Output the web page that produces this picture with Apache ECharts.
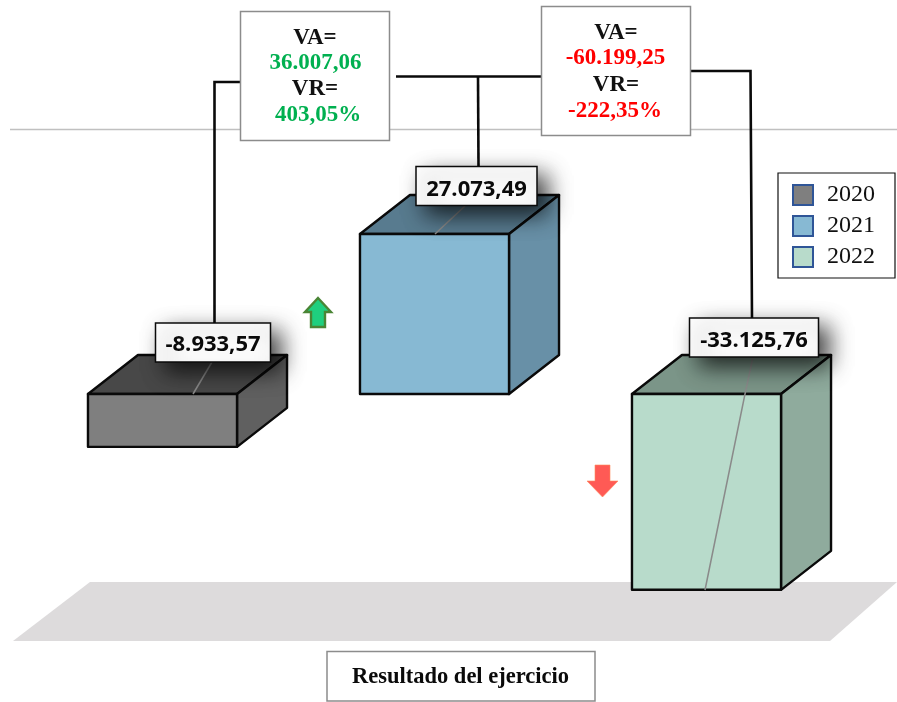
<!DOCTYPE html>
<html><head><meta charset="utf-8">
<style>html,body{margin:0;padding:0;background:#fff}#c{width:897px;height:702px}</style>
<script src="https://cdn.jsdelivr.net/npm/echarts@6/dist/echarts.min.js"></script>
</head><body><div id="c"></div>
<script>
const years = ['2020', '2021', '2022'];
const values = [-8933.57, 27073.49, -33125.76];
const valueLabels = ['-8.933,57', '27.073,49', '-33.125,76'];
const frontColors = ['#7f7f7f', '#87b9d3', '#b8dbcb'];
const topColors = ['#484848', '#587b8f', '#7b9588'];
const sideColors = ['#606060', '#6890a7', '#8fab9d'];
const variationAbs = ['36.007,06', '-60.199,25'];
const variationRel = ['403,05%', '-222,35%'];
const chartTitle = 'Resultado del ejercicio';

const DX = 50, DY = 39, BAR = 0.548;
const chart = echarts.init(document.getElementById('c'), null, {renderer: 'canvas'});

// thin gray leader seen on each bar
const leaders = [
  [[212, 362], [193, 394]],
  [[465, 206], [435, 234]],
  [[753, 357], [745, 394], [705, 590]]
];

function renderBar(params, api) {
  const idx = api.value(0), val = api.value(1);
  const c = api.coord([idx, 0]), e = api.coord([idx, val]);
  const w = api.size([1, 0])[0] * BAR;
  const l = c[0] - w / 2, r = c[0] + w / 2;
  const t = Math.min(c[1], e[1]), b = Math.max(c[1], e[1]);
  const stroke = {stroke: '#0a0a0a', lineWidth: 2.4, lineJoin: 'round'};
  const poly = (pts, fill) => ({type: 'polygon', shape: {points: pts}, style: Object.assign({fill}, stroke)});
  const children = [
    poly([[l, t], [r, t], [r + DX, t - DY], [l + DX, t - DY]], topColors[idx]),
    poly([[r, t], [r + DX, t - DY], [r + DX, b - DY], [r, b]], sideColors[idx]),
    poly([[l, t], [r, t], [r, b], [l, b]], frontColors[idx])
  ];
  children.push({type: 'polyline', shape: {points: leaders[idx]},
    style: {stroke: '#8a8a8a', lineWidth: 1.5, fill: null}});
  return {type: 'group', children};
}

const serif = '"Liberation Serif", serif';
const txt = (x, y, text, fill, size, weight, font) => ({
  type: 'text', z: 110, x, y,
  style: {text, fill, font: (weight || 'bold') + ' ' + size + 'px ' + (font || serif), textAlign: 'center', textVerticalAlign: 'middle'}
});
const rect = (x, y, w, h, stroke, lw, extra) => ({
  type: 'rect', z: 100, shape: {x, y, width: w, height: h},
  style: Object.assign({fill: '#fff', stroke, lineWidth: lw}, extra || {})
});
const pl = (points, z, width) => ({
  type: 'polyline', z: z || 90, shape: {points},
  style: {stroke: '#0a0a0a', lineWidth: width || 2.6, fill: null}
});
const shadow = {shadowColor: 'rgba(0,0,0,0.75)', shadowBlur: 22, shadowOffsetX: 10, shadowOffsetY: 9};
const labelFont = '"Open Sans", sans-serif';
const green = '#00b050', red = '#ff0000';

const graphics = [
  // floor
  {type: 'polygon', z: 0, shape: {points: [[90, 582], [897, 582], [830, 641], [13, 641]]}, style: {fill: '#dddbdc'}},
  // rule
  {type: 'line', z: 1, shape: {x1: 10, y1: 129.5, x2: 897, y2: 129.5}, style: {stroke: '#c0c0c0', lineWidth: 1.5}},
  // connectors
  pl([[240, 82], [214.5, 82], [214.5, 323]]),
  pl([[396, 76.5], [541, 76.5]]),
  pl([[478, 76.5], [478.5, 166]]),
  pl([[691, 71], [750.5, 71], [752, 318]]),
  // variation boxes
  rect(240.5, 11.5, 149, 129, '#8c8c8c', 1.5),
  txt(315, 38, 'VA=', '#111', 23),
  txt(315.5, 63, variationAbs[0], green, 23),
  txt(315, 89, 'VR=', '#111', 23),
  txt(318, 115, variationRel[0], green, 23),
  rect(541.5, 6.5, 149, 129, '#8c8c8c', 1.5),
  txt(616, 33, 'VA=', '#111', 23),
  txt(615.5, 58, variationAbs[1], red, 23),
  txt(616, 85, 'VR=', '#111', 23),
  txt(615, 111, variationRel[1], red, 23),
  // value labels
  rect(155.5, 323, 115, 39, '#0a0a0a', 1.5, shadow),
  txt(213, 345, valueLabels[0], '#0a0a0a', 22, 'bold', labelFont),
  rect(416, 166.5, 121, 39, '#0a0a0a', 1.5, shadow),
  txt(476.5, 189.5, valueLabels[1], '#0a0a0a', 22, 'bold', labelFont),
  rect(689.5, 318, 129, 39, '#0a0a0a', 1.5, shadow),
  txt(754, 341, valueLabels[2], '#0a0a0a', 22, 'bold', labelFont),
  // arrows
  {type: 'polygon', z: 105, shape: {points: [[318, 298], [331, 312], [325, 312], [325, 327], [311, 327], [311, 312], [305, 312]]},
    style: {fill: '#1fcf7e', stroke: '#4a8535', lineWidth: 2.4}},
  {type: 'polygon', z: 105, shape: {points: [[595, 465], [610, 465], [610, 481], [618, 481], [602.5, 497], [587, 481], [595, 481]]},
    style: {fill: '#ff5a55', stroke: '#ff8a5a', lineWidth: 0.6}},
  // title box
  rect(327, 651.5, 268, 49.5, '#8c8c8c', 1.5),
  txt(460.5, 677, chartTitle, '#0a0a0a', 22.5)
];

chart.setOption({
  animation: false,
  backgroundColor: '#fff',
  grid: {left: 26.5, width: 816, top: 98.5, height: 502.4},
  xAxis: {type: 'category', data: years, show: false},
  yAxis: {type: 'value', min: -35000, max: 50000, show: false},
  legend: {
    orient: 'vertical', left: 778, top: 173,
    padding: [10, 20, 9, 14], itemWidth: 20, itemHeight: 20, itemGap: 7,
    backgroundColor: '#fff', borderColor: '#111', borderWidth: 1.2, borderRadius: 0,
    selectedMode: false, z: 20,
    textStyle: {fontFamily: serif, fontSize: 24, lineHeight: 20, color: '#111', padding: [0, 0, 0, 9]},
    data: years.map((name, i) => ({
      name, icon: 'rect',
      itemStyle: {color: frontColors[i], borderColor: '#2f5597', borderWidth: 2}
    }))
  },
  series: years.map((name, i) => ({
    type: 'custom', name, coordinateSystem: 'cartesian2d', z: 5,
    itemStyle: {color: frontColors[i]},
    renderItem: renderBar, clip: false, silent: true,
    encode: {x: 0, y: 1},
    data: [[i, values[i]]]
  })),
  graphic: {elements: graphics}
});
</script></body></html>
